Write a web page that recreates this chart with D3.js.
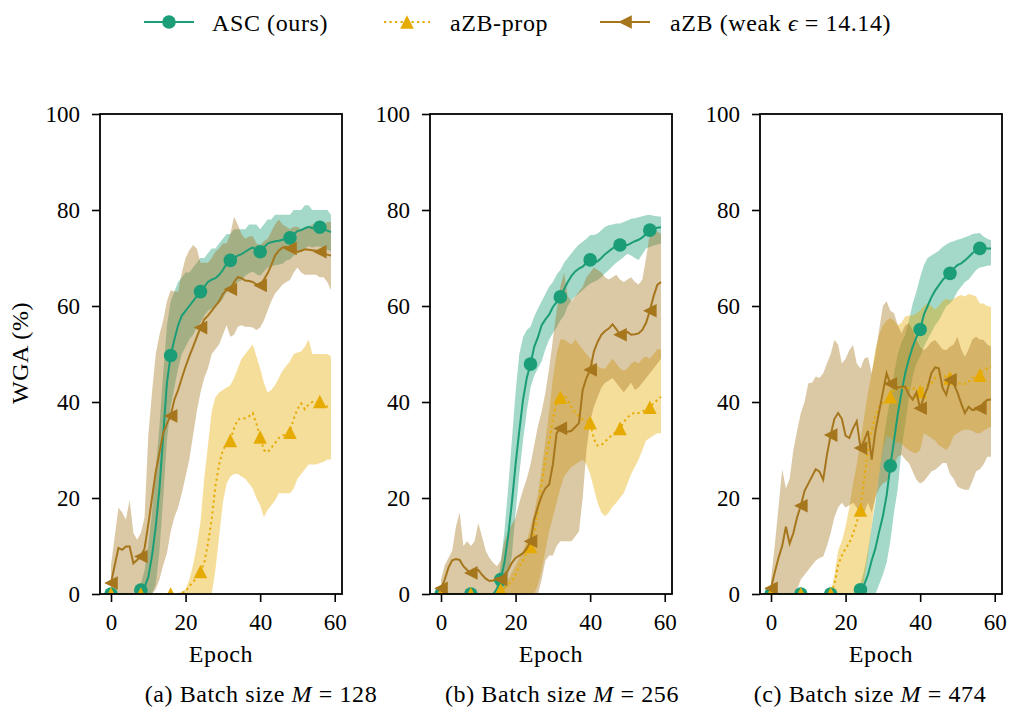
<!DOCTYPE html>
<html>
<head>
<meta charset="utf-8">
<script src="https://cdn.jsdelivr.net/npm/d3@7"></script>
<style>
  body { margin: 0; background: #fff; }
  svg text { font-family: "Liberation Serif", "DejaVu Serif", "Noto Serif", serif; fill: #000; }
</style>
</head>
<body>
<svg id="chart" width="1011" height="711"></svg>
<script>
// epochs 0..59, markers every 8 epochs
const epochs = d3.range(0, 60);
const yTicks = [0, 20, 40, 60, 80, 100];
const xTicks = [0, 20, 40, 60];
const seriesNames = ['ASC (ours)', 'aZB-prop', 'aZB (weak '];
const captions = ['(a) Batch size ', '(b) Batch size ', '(c) Batch size '];
const batchSizes = ['128', '256', '474'];

// ---- (a) M = 128 ----
const ascMeanA = [0,0,0,0,0,0,0,0,0.8,1.5, 3.5,8,14,22,33,44,49.7,53,56,58, 59,60,61,62,63,64,65,65.5,65.8,66.5, 67.5,68.8,69.5,70,70.5,70.8,71.3,71.8,72.2,71.6, 71.3,72.2,73,73.3,73.5,73.6,73.8,74,74.2,75, 75.6,75.8,76.2,76.5,76.2,76.4,76.4,76,75.7,75.4];
const ascHiA = [0,0,0,0,0,0,0,0,2,5, 10,17,26,35,46,56,61,63,65,66, 67,67,68,69,70,70,71,72,72,73, 74,75,75,76,76,76,76,77,77,77, 76,77,78,78,79,79,79,79,79,80, 80,80,81,81,80,80,80,80,80,79];
const ascLoA = [0,0,0,0,0,0,0,0,0,0, 0,0,2,9,20,32,39,43,47,50, 51.5,53,54,55.5,56.5,58,59,59.5,60,60.5, 61.5,63,64,64.5,65,65.3,66.3,66.8,67.2,66.6, 66.3,67.2,68,68.3,68.5,68.6,68.8,69.5,69.7,70.5, 71,71.3,72,72.5,72.2,72.4,72.4,72,71.7,71.4];
const propMeanA = [0,0,0,0,0,0,0,0,0,0, 0,0,0,0,0,0,0,0,0,0.2, 0.5,1.6,2.5,3.5,4.7,6.5,10.5,15.5,22.5,27, 30,31.2,32,34.5,36.3,36.6,36.6,37,37.7,35.5, 32.7,30,29.5,30.5,31.4,32.5,33,33.3,33.7,36.5, 38.5,39.7,38.5,39.5,40,40,40.1,39.5,39,38.7];
const propHiA = [0,0,0,0,0,0,0,0,0,0, 0,0,0,0,0,0,0,0,0,0.5, 1,3,6,10,15,24,31,38,41,42, 42.5,43,43.5,45,47,49,50,51,52,49.5, 47,44,42,42.5,43.5,45,46.5,47.5,48.5,50, 50.3,50.5,51.5,53,50,50,50,50,50,49.5];
const propLoA = [0,0,0,0,0,0,0,0,0,0, 0,0,0,0,0,0,0,0,0,0, 0,0,0,0,0,0,0,0,5,12, 19,23,24.5,25,25,24.5,24,23,22,20, 18.5,16,17.5,18.5,19.5,21,21,21,21,22, 24,25,26,27,27,27,27.3,27.5,28,28];
const azbMeanA = [2.3,6,9.6,9.2,9.9,9.9,6.4,7.1,7.8,9.5, 14.5,20,25.5,29.5,33.5,35.5,37.1,40.5,42.5,45, 47.4,49.5,51.5,53.5,55.5,57.2,58,59,60,61, 62.5,63.3,63.5,65,66,65.8,65.3,65.2,65,64.5, 64.3,65.5,66.8,68.5,70.5,71.5,72.2,72.3,72,71.5, 71.3,71.5,71.8,71.7,71.6,71.5,71.3,71,70.7,70.5];
const azbHiA = [6,12,18,17,15.5,19.6,12.7,11.3,12.7,16, 33,42,50,54,57,61,63.3,63,63,67, 70,71.6,72.7,72,69,69,69,70,71.3,72, 73,73,75,78.6,77,75,74,74.5,74.6,73, 72.7,73.5,74,75.5,77,78,77,76.5,76,76.5, 76.5,76,76,76.5,77,77,77,77,77.5,77.5];
const azbLoA = [0,0,0,0,0,0,0,0,0,0, 0,0,1,3,6,8.5,13,16,18,21, 24.5,28,33,38,42,45,47,50,51,52, 54,56,53.6,54,55.7,56,55.7,55.7,55.5,55, 55.5,57,59,61,62.6,63.5,64.5,65,65.4,67, 68,67,66.5,66.5,66.5,66.5,66,66,65,63.3];

// ---- (b) M = 256 ----
const ascMeanB = [0,0,0,0,0,0,0,0,0,0, 0,0,0,0,0,1,3,6.5,12,19, 27,34,40.5,45,47.9,51.5,53.5,56,57.2,58.2, 59.8,60.8,61.9,63.5,65,66.3,67.2,67.8,68.2,69, 69.6,69.1,69.3,70,70.8,71.4,72,72.4,72.7,72.7, 72.7,73.1,73.5,73.8,74.3,75,75.8,76.1,76.3,76.4];
const ascHiB = [0,0,0,0,0,0,0,0,0,0, 0,0,0,0,0,2,6,13,22,32, 42,50,53.5,55,55.7,57.8,59.5,61,62.5,64, 65,66.5,67.5,69,70,71,72,72.8,73.4,74, 74.8,74.8,75.1,75.8,76.5,76.8,77,77.2,77.2,77.5, 77.8,78.2,78.3,78.5,78.7,78.9,79,78.8,78.7,78.6];
const ascLoB = [0,0,0,0,0,0,0,0,0,0, 0,0,0,0,0,0,0,1,4,8, 17,25,32,38,43,45.5,47,48.5,51,53, 54.3,55.5,57,58,60,61.2,62,62.6,63.3,64, 64.7,65,65.4,66,66.8,67.5,68.3,69,69.6,70.2, 70.9,70.5,70,69.6,70.8,72,72.3,72.6,72.8,73];
const propMeanB = [0,0,0,0,0,0,0,0,0,0, 0,0,0,0,0,0,0.9,1.2,2,2.6, 4,5.8,7,8.5,9.9,12.7,17,23,28,31.5, 36.5,40,41,41.5,40.4,38.8,37.8,37,36.3,36, 35.7,32.3,30.9,31,31.8,32.5,33.2,33.8,34.5,35.8, 36.8,37.4,37.8,37.7,38,38.5,38.9,39.7,40.4,41.1];
const propHiB = [0,0,0,0,0,0,0,0,0,0, 0,0,0,0,0,0,0.5,1.5,3,4.5, 6,7.5,9,11,14,17,21,26,32,38, 45,50,53,53,52.5,52,53,52,51,50, 49,48,47.5,47,47,48,49,48,47,46.5, 47,48,48.5,48,49,49.5,49,50,51,51];
const propLoB = [0,0,0,0,0,0,0,0,0,0, 0,0,0,0,0,0,0,0,0,0, 0,0,0,0,0,0,2,5,9,13, 16,19,22,24.5,25.5,26.5,27,27.5,28,27, 25,22,19,17,16.2,17,18.2,19,20,21, 23,25,26.5,28,30,32,32.5,33,33.5,33.5];
const azbMeanB = [1.2,3,5.5,7,7.3,7.1,5.8,5,4.4,4.7, 5,4,3.2,2.7,2.8,3.3,3,4,5,6.5, 7.5,8,8.5,9.5,11,15.5,18.2,20.5,22,22.8, 27,33.5,34.5,33.8,33.8,34,34.8,35.6,42.5,45, 46.7,50.5,52.5,54,54.8,55.3,56.2,55.2,54,54.3, 54.6,54,54.1,54.3,55,56.5,59,62,64.4,65];
const azbHiB = [3,6,7.5,9,14,17,10,11,10,11, 14.8,12,9,7.5,6.5,5.8,7,11,13,14.5, 16,19,21.7,24,27,31,35,38,42,47, 53,59,64,67,62,61,62,63,64,66, 67,68,67.5,67,66,65.5,66,66.5,65.5,65, 65.5,66,65,64.5,65.5,70,75,76,75.5,75];
const azbLoB = [0,0,0,0,0,0,0,0,0,0, 0,0,0,0,0,0,0,0,0,0, 0,0,0,0,0,0,0,3,7,8, 8,10,11,11,11,11,12,13,20,30, 36,39,41,43,44,44.5,45,44,43,42, 43,44,42.5,43,44,45,46,47,48,49];

// ---- (c) M = 474 ----
const ascMeanC = [0,0,0,0,0,0,0,0,0,0, 0,0,0,0,0,0,0,0,0,0, 0,0,0,0,0.9,2,4,7,9.5,13, 16.2,20.5,26.7,32,37.5,42,46,49,51.5,53.5, 55.1,58.2,60,61.8,63.2,64.3,65.4,66.2,66.8,67.8, 68.5,68.9,69.5,70.2,71,71.6,72,72,72,72];
const ascHiC = [0,0,0,0,0,0,0,0,0,0, 0,0,0,0,0,0,0,0,0,0, 0,0,0,0,2,5,9,14,19,25, 31,36.3,41,46,50,52.5,54,57,60.5,63, 66,68.5,70,70.5,71,71.5,72.3,72.8,73.3,73.5, 73.8,74,74.3,74.6,75,75.1,75.2,74.5,74,73.7];
const ascLoC = [0,0,0,0,0,0,0,0,0,0, 0,0,0,0,0,0,0,0,0,0, 0,0,0,0,0,0,0,0,0,2, 4,6.5,11,17,22,30,35.5,41,45.3,48, 49.5,51.5,53,54.5,56,57,58.5,60,60.5,61.5, 63,64,65,65.5,66.5,67.5,68,68.2,68.4,68.5];
const propMeanC = [0,0,0,0,0,0,0,0,0,0, 0,0,0,0,0,0,0,2,6,8, 9.5,10.6,12.5,15,17.5,24,30,34,37,39, 40,40.5,41.1,42.5,43,43,42.9,42.9,42.9,42.5, 42.2,43,43.5,43.9,45,45.6,45.4,45.3,45,44.7, 44.2,43.6,43.8,44.2,45,45.3,45.6,46.7,47,47.4];
const propHiC = [0,0,0,0,0,0,0,0,0,0, 0,0,0,0,0,0,0,4,9,11, 14,18,23,27,32,37,42,46,51,54, 56,57,57.5,57,56,56.5,57.8,58,58,58.5, 59,60,60.5,60,59.2,60,61,61.5,61.2,61.5, 62,62.3,62,62.5,62.3,62,60.5,60.5,60,59.8];
const propLoC = [0,0,0,0,0,0,0,0,0,0, 0,0,0,0,0,0,0,0,0,0, 0,0,0,0,0,3,8,14,20,25, 30,33,32.5,32,31.5,31.4,30.5,30,29.5,29.3, 30,33.5,33,32.5,32,31,30.5,30,31,33, 33.5,34,34.2,34.2,34,33.5,33.5,34,34.5,34.9];
const azbMeanC = [1.2,4.5,7.5,10,14,10.5,12.7,16,18.4,21.5, 23,24.5,26,25.5,23.8,29,33.1,36.5,37.7,36.5, 33,32.5,34.5,36,30.4,32,34,28,34,38, 42,46,43.8,43.5,43,43.2,43.2,41.5,40.5,42, 38.7,41.1,43,46,47.2,47,43,41.5,44.6,43.8, 42,39.7,37.7,39,38.3,38.5,38.7,39.8,40.4,40.5];
const azbHiC = [3,10,18,26,22,24,30,34,37.7,40, 43.9,44,45.3,45,46,48,50,52.9,52,48, 49,50.8,51.9,48,47,49,49.4,46,50,55, 60,61,59,58.5,56,54.3,56,56.4,55,53, 51.5,50.8,51.5,52.5,52.9,52,51,50.8,51.5,52, 53.6,51,49.4,51,53,53.6,53,52.9,52,51.5];
const azbLoC = [0,0,0,0,0,0,0,1,3,4, 5,6,7,7.5,7.8,10,12.7,16,18,19, 18,18.5,19,18,16,17,19,17,20,22, 23,23.5,25,27,28.6,29,28,27.3,25.5,23.8, 23,23.5,24.5,25.5,25.9,26.5,27.3,27.3,25,24, 22.4,22,21.7,21.7,23.5,25.5,26,27,28.6,28.6];

// series styling, drawn in this order
const series = [
  { key: 'asc',  color: '#1b9e77', marker: 'circle', dash: null,
    mean: [ascMeanA, ascMeanB, ascMeanC], lo: [ascLoA, ascLoB, ascLoC], hi: [ascHiA, ascHiB, ascHiC] },
  { key: 'prop', color: '#e6ab02', marker: 'up', dash: '2.2,3.3',
    mean: [propMeanA, propMeanB, propMeanC], lo: [propLoA, propLoB, propLoC], hi: [propHiA, propHiB, propHiC] },
  { key: 'azb',  color: '#a6761d', marker: 'left', dash: null,
    mean: [azbMeanA, azbMeanB, azbMeanC], lo: [azbLoA, azbLoB, azbLoC], hi: [azbHiA, azbHiB, azbHiC] }
];

const fontStack = '"Liberation Serif", "DejaVu Serif", "Noto Serif", serif';
const svg = d3.select('#chart');
const panelW = 242;
const topY = 114, bottomY = 594;
const lefts = [100, 430, 760];
const captionX = [261, 562, 870];
const ms = 6.8; // half marker size

function drawMarker(g, type, color, cx, cy) {
  if (type === 'circle') {
    g.append('circle').attr('cx', cx).attr('cy', cy).attr('r', ms).attr('fill', color);
  } else if (type === 'up') {
    g.append('path').attr('transform', `translate(${cx},${cy})`)
      .attr('d', `M0,${-ms}L${ms},${ms}L${-ms},${ms}Z`).attr('fill', color);
  } else {
    g.append('path').attr('transform', `translate(${cx},${cy})`)
      .attr('d', `M${-ms},0L${ms},${-ms}L${ms},${ms}Z`).attr('fill', color);
  }
}

const y = d3.scaleLinear().domain([0, 100]).range([bottomY, topY]);

lefts.forEach((left, p) => {
  const x = d3.scaleLinear().domain([-2.95, 61.95]).range([left, left + panelW]);
  const g = svg.append('g');

  g.append('clipPath').attr('id', 'clip' + p)
    .append('rect').attr('x', left).attr('y', topY).attr('width', panelW).attr('height', bottomY - topY);

  const plot = g.append('g').attr('clip-path', `url(#clip${p})`);

  // bands first
  series.forEach(s => {
    const area = d3.area()
      .x(i => x(epochs[i]))
      .y0(i => y(s.lo[p][i]))
      .y1(i => y(s.hi[p][i]));
    plot.append('path')
      .attr('d', area(epochs.map((e, i) => i)))
      .attr('fill', s.color)
      .attr('fill-opacity', 0.4);
  });

  // lines and markers
  series.forEach(s => {
    const line = d3.line().x((d, i) => x(epochs[i])).y(d => y(d));
    plot.append('path')
      .attr('d', line(s.mean[p]))
      .attr('fill', 'none')
      .attr('stroke', s.color)
      .attr('stroke-width', 2)
      .attr('stroke-dasharray', s.dash);
    epochs.filter(e => e % 8 === 0).forEach(e => {
      drawMarker(plot, s.marker, s.color, x(e), y(s.mean[p][e]));
    });
  });

  // axes
  const xAxis = g.append('g')
    .attr('transform', `translate(0,${bottomY})`)
    .call(d3.axisBottom(x).tickValues(xTicks).tickSize(8).tickPadding(12));
  const yAxis = g.append('g')
    .attr('transform', `translate(${left},0)`)
    .call(d3.axisLeft(y).tickValues(yTicks).tickSize(8).tickPadding(12));
  [xAxis, yAxis].forEach(a => {
    a.attr('font-family', fontStack);
    a.select('.domain').remove();
    a.selectAll('line').attr('stroke', '#000').attr('stroke-width', 1.6);
    a.selectAll('text').attr('font-size', 23).style('font-family', fontStack);
  });

  g.append('rect')
    .attr('x', left).attr('y', topY)
    .attr('width', panelW).attr('height', bottomY - topY)
    .attr('fill', 'none').attr('stroke', '#000').attr('stroke-width', 1.8);

  g.append('text')
    .attr('x', left + panelW / 2).attr('y', 662)
    .attr('text-anchor', 'middle').attr('font-size', 24).attr('letter-spacing', '0.6px')
    .text('Epoch');

  const cap = g.append('text')
    .attr('x', captionX[p]).attr('y', 702)
    .attr('text-anchor', 'middle').attr('font-size', 24).attr('letter-spacing', '0.6px');
  cap.append('tspan').text(captions[p]);
  cap.append('tspan').attr('font-style', 'italic').text('M');
  cap.append('tspan').text(' = ' + batchSizes[p]);
});

// y label
svg.append('text')
  .attr('transform', 'translate(28,353) rotate(-90)')
  .attr('text-anchor', 'middle').attr('font-size', 24).attr('letter-spacing', '0.6px')
  .text('WGA (%)');

// legend
const legendLine = [[144, 194], [384, 430], [600, 650]];
const legendText = [212, 450, 670];
const ly = 22;
series.forEach((s, i) => {
  const lg = svg.append('g');
  lg.append('line')
    .attr('x1', legendLine[i][0]).attr('x2', legendLine[i][1])
    .attr('y1', ly).attr('y2', ly)
    .attr('stroke', s.color).attr('stroke-width', 2)
    .attr('stroke-dasharray', s.dash);
  drawMarker(lg, s.marker, s.color, (legendLine[i][0] + legendLine[i][1]) / 2, ly);
  const t = lg.append('text')
    .attr('x', legendText[i]).attr('y', ly + 9)
    .attr('font-size', 24).attr('letter-spacing', '0.6px');
  t.append('tspan').text(seriesNames[i]);
  if (s.key === 'azb') {
    t.append('tspan').attr('font-style', 'italic').text('\u03F5');
    t.append('tspan').text(' = 14.14)');
  }
});
</script>
</body>
</html>
